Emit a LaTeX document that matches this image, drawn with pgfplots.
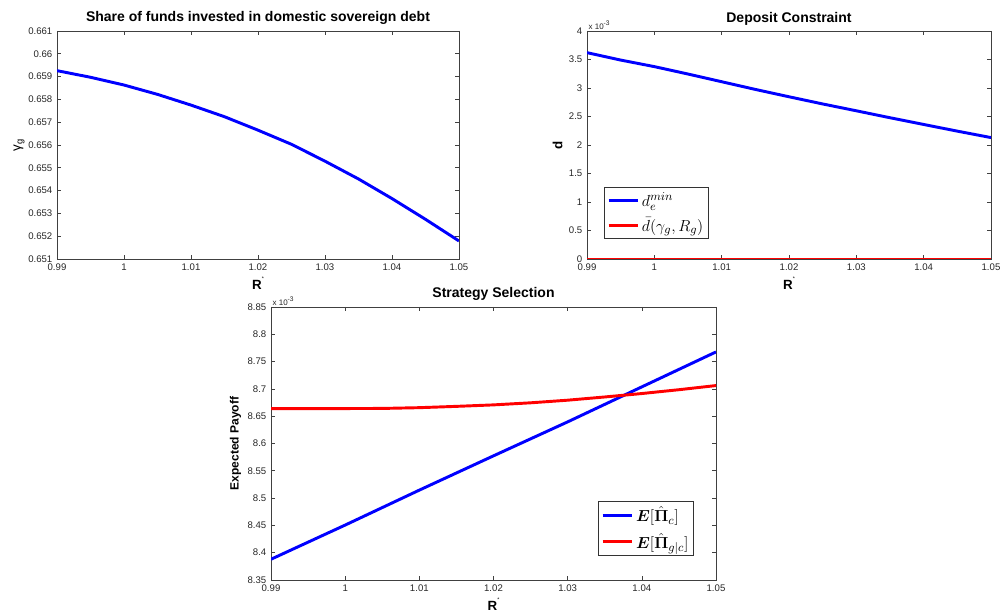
\documentclass[border=0pt]{standalone}
\usepackage{pgfplots}
\pgfplotsset{compat=1.18}
\usepackage{amsmath}
\usepackage{fontspec}
\setmainfont{Liberation Sans}
\pgfplotsset{
  mat/.style={
    scale only axis,
    axis line style={black!75},
    every tick/.style={black!75, line width=0.5pt},
    major tick length=3pt,
    tick align=inside,
    xtick pos=both, ytick pos=both,
    tick label style={font=\fontsize{7.2}{8}\selectfont, text=black!85},
    xtick={0.99,1,1.01,1.02,1.03,1.04,1.05},
    xticklabels={0.99,1,1.01,1.02,1.03,1.04,1.05},
    xmin=0.99, xmax=1.05,
    title style={font=\fontsize{10.5}{12}\bfseries, at={(0.5,1)}, anchor=south, yshift=-5pt},
    xlabel={\textbf{R}\raisebox{1.2ex}{\fontsize{4}{4}\selectfont *}},
    xlabel style={font=\fontsize{10}{12}\selectfont, yshift=2pt},
    legend cell align=left,
    legend style={draw=black!80, line width=0.6pt, font=\fontsize{12.5}{15}\selectfont, inner sep=2pt, row sep=3pt},
    every axis plot/.append style={line width=2.2pt},
  },
  legend image code/.code={\draw[#1, line width=2.2pt] (0pt,0pt) -- (22pt,0pt);},
}
\begin{document}
\begin{tikzpicture}
\useasboundingbox (0pt,0pt) rectangle (752.25pt,462pt);

% Top-left
\begin{axis}[mat, at={(42.75pt,267.75pt)}, anchor=south west, width=301.5pt, height=171pt,
  title={Share of funds invested in domestic sovereign debt},
  ymin=0.651, ymax=0.661,
  ytick={0.651,0.652,0.653,0.654,0.655,0.656,0.657,0.658,0.659,0.66,0.661},
  yticklabels={0.651,0.652,0.653,0.654,0.655,0.656,0.657,0.658,0.659,0.66,0.661},
  ylabel={γ\textsubscript{g}}, ylabel style={font=\fontsize{10}{12}\selectfont, yshift=-4pt},
]
\addplot[blue] coordinates {
(0.990,0.65926) (0.995,0.65897) (1.000,0.65863) (1.005,0.65822) (1.010,0.65775)
(1.015,0.65724) (1.020,0.65665) (1.025,0.65603) (1.030,0.65529) (1.035,0.65451)
(1.040,0.65365) (1.045,0.65274) (1.050,0.65179)};
\end{axis}

% Top-right
\begin{axis}[mat, name=tr, at={(440.25pt,267.75pt)}, anchor=south west, width=303pt, height=171pt,
  title={Deposit Constraint},
  ymin=0, ymax=4,
  ytick={0,0.5,1,1.5,2,2.5,3,3.5,4},
  yticklabels={0,0.5,1,1.5,2,2.5,3,3.5,4},
  ylabel={\textbf{d}}, ylabel style={font=\fontsize{10}{12}\selectfont, yshift=-2pt},
  legend style={at={(0.042,0.088)}, anchor=south west},
]
\addplot[blue] coordinates {
(0.990,3.62) (0.995,3.49) (1.000,3.375) (1.005,3.245) (1.010,3.11)
(1.015,2.975) (1.020,2.846) (1.025,2.72) (1.030,2.60) (1.035,2.478)
(1.040,2.36) (1.045,2.243) (1.050,2.13)};
\addlegendentry{$d_e^{min}$}
\addplot[red] coordinates {(0.99,0) (1.05,0)};
\addlegendentry{$\bar{d}(\gamma_g, R_g)$}
\end{axis}
\node[anchor=south west, font=\fontsize{6}{7}\selectfont, text=black!85, inner sep=1pt] at (tr.north west) {x 10\textsuperscript{-3}};

% Bottom
\begin{axis}[mat, name=bt, at={(203.25pt,27pt)}, anchor=south west, width=333.75pt, height=204.75pt,
  title={Strategy Selection},
  ymin=8.35, ymax=8.85,
  ytick={8.35,8.4,8.45,8.5,8.55,8.6,8.65,8.7,8.75,8.8,8.85},
  yticklabels={8.35,8.4,8.45,8.5,8.55,8.6,8.65,8.7,8.75,8.8,8.85},
  ylabel={\textbf{Expected Payoff}}, ylabel style={font=\fontsize{9}{11}\selectfont, yshift=-2pt},
  legend style={at={(0.951,0.088)}, anchor=south east},
]
\addplot[blue] coordinates {
(0.990,8.388) (1.000,8.4506) (1.010,8.5146) (1.020,8.5774)
(1.030,8.6396) (1.040,8.7037) (1.050,8.7677)};
\addlegendentry{$\boldsymbol{E}[\hat{\boldsymbol{\Pi}}_c]$}
\addplot[red] coordinates {
(0.990,8.6640) (1.000,8.6640) (1.005,8.6642) (1.010,8.6656) (1.015,8.6680)
(1.020,8.6707) (1.025,8.6745) (1.030,8.6793) (1.035,8.6852) (1.040,8.6915)
(1.045,8.6985) (1.050,8.7061)};
\addlegendentry{$\boldsymbol{E}[\hat{\boldsymbol{\Pi}}_{g|c}]$}
\end{axis}
\node[anchor=south west, font=\fontsize{6}{7}\selectfont, text=black!85, inner sep=1pt] at (bt.north west) {x 10\textsuperscript{-3}};
\end{tikzpicture}
\end{document}
